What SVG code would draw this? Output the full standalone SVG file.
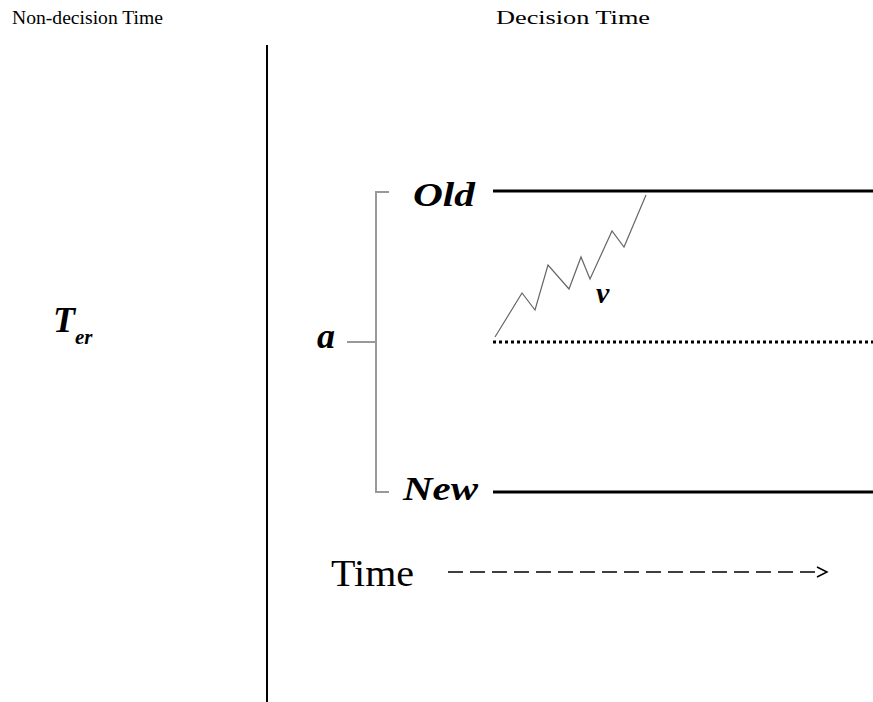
<svg xmlns="http://www.w3.org/2000/svg" width="873" height="702" viewBox="0 0 873 702">
<style>
.hdr{font-family:"Liberation Serif",serif;font-size:18px;fill:#000}
.lbl{font-family:"Liberation Serif",serif;font-weight:bold;font-style:italic;fill:#000}
.bnd{stroke:#000;stroke-width:3;fill:none}
.br{stroke:#999;stroke-width:2;fill:none}
</style>
<rect width="873" height="702" fill="#fff"/>
<g id="headers">
<text class="hdr" x="12" y="24" textLength="151" lengthAdjust="spacingAndGlyphs">Non-decision Time</text>
<text class="hdr" x="496" y="24" textLength="154" lengthAdjust="spacingAndGlyphs">Decision Time</text>
</g>
<g id="divider"><line x1="267" y1="45" x2="267" y2="702" stroke="#000" stroke-width="2"/></g>
<g id="ter"><text class="lbl" x="53" y="332" font-size="36">T<tspan font-size="21" dy="12">er</tspan></text></g>
<g id="bounds">
<line class="bnd" x1="493" y1="191" x2="873" y2="191"/>
<line class="bnd" x1="493" y1="492" x2="873" y2="492"/>
<line x1="493" y1="342" x2="873" y2="342" stroke="#000" stroke-width="3" stroke-dasharray="3,3"/>
</g>
<g id="bracket">
<path class="br" d="M389,192 H376 V492 H389 M347,342 H376"/>
</g>
<g id="labels">
<text class="lbl" x="413" y="206" font-size="34" textLength="62" lengthAdjust="spacingAndGlyphs">Old</text>
<text class="lbl" x="403" y="500" font-size="34" textLength="75" lengthAdjust="spacingAndGlyphs">New</text>
<text class="lbl" x="317" y="348" font-size="36">a</text>
<text class="lbl" x="596" y="303" font-size="30">v</text>
</g>
<g id="connectors">
<polyline points="495,337 522,293 535,310 548,265 569,289 581,257 590,279 612,231 624,247 646,195" fill="none" stroke="#666" stroke-width="1.2"/>
<line x1="448" y1="572" x2="822" y2="572" stroke="#000" stroke-width="1.5" stroke-dasharray="15,7"/>
<path d="M817,567 L827,572 L817,577" fill="none" stroke="#000" stroke-width="1.5"/>
</g>
<g id="time"><text x="331" y="586" font-family="Liberation Serif,serif" font-size="37" textLength="83" lengthAdjust="spacingAndGlyphs">Time</text></g>
</svg>
